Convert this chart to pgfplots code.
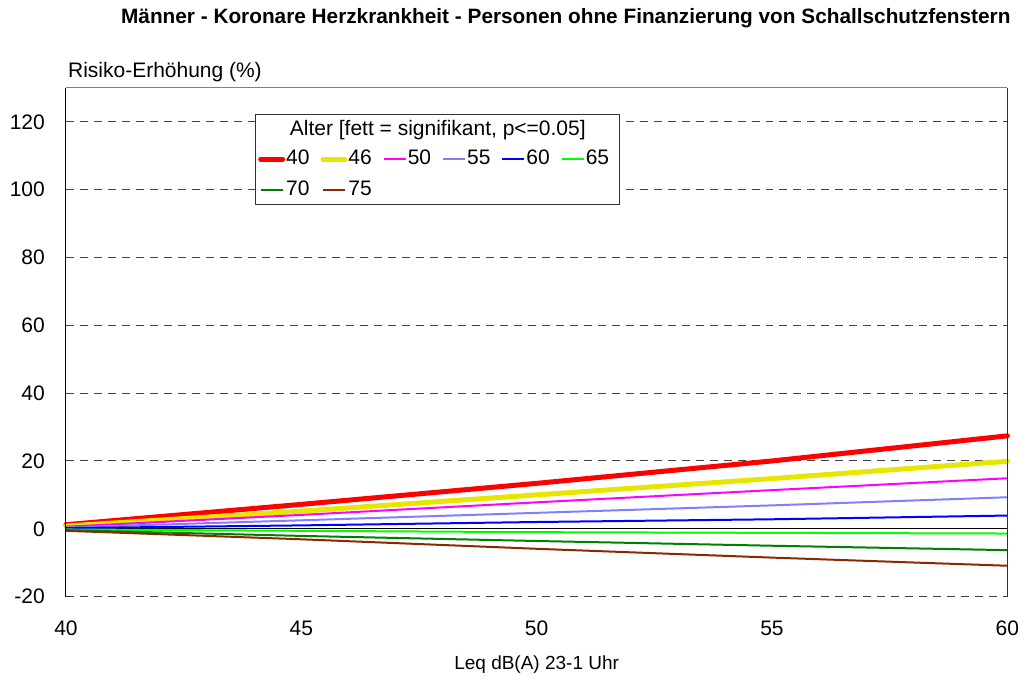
\documentclass[border=0pt]{standalone}
\usepackage{pgfplots}
\pgfplotsset{compat=1.18}
\usepackage{fontspec}
\setmainfont{Liberation Sans}
\definecolor{cyel}{RGB}{230,230,0}
\definecolor{cmag}{RGB}{255,0,255}
\definecolor{clblue}{RGB}{128,128,255}
\definecolor{cdgreen}{RGB}{0,128,0}
\definecolor{cbrown}{RGB}{140,40,0}
\begin{document}
\fontsize{21}{25}\selectfont
\begin{tikzpicture}
\begin{axis}[
  at={(0,0)}, anchor=south west,
  width=942pt, height=509pt, scale only axis,
  xmin=40, xmax=60, ymin=-20, ymax=130,
  xtick={40,45,50,55,60}, ytick={-20,0,20,40,60,80,100,120},
  major tick length=0pt,
  ymajorgrids,
  grid style={black!75, dash pattern=on 8pt off 6pt, line width=1pt},
  axis line style={draw=none},
  tick label style={font=\fontsize{21}{25}\selectfont},
  /pgf/number format/assume math mode=true,
  xticklabel style={yshift=-17pt},
  yticklabel style={xshift=-14pt},
  clip=false,
  legend columns=6,
  legend cell align=left,
  legend style={at={(0.204,0.880)}, anchor=north west, draw=none, fill=none,
    font=\fontsize{21}{25}\selectfont,
    /tikz/every even column/.append style={column sep=10pt},
    row sep=11pt, inner sep=0pt, nodes={inner sep=1pt}},
  legend image code/.code={\draw[#1] (0pt,0pt) -- (22pt,0pt);},
]
\draw[black!80, line width=1pt, fill=white] (rel axis cs:0.2017,0.770) rectangle (rel axis cs:0.588,0.947);
\node at (rel axis cs:0.395,0.917) {Alter [fett = signifikant, p<=0.05]};
\addplot[black, line width=1pt, forget plot] coordinates {(40,0) (60,0)};
\addplot[red, line width=5pt, line cap=round] coordinates {(40,1.2) (45,7.2) (50,13.4) (55,20.0) (60,27.4)};
\addlegendentry{40}
\addplot[cyel, line width=5pt, line cap=round] coordinates {(40,0.8) (45,5.2) (50,10.0) (55,14.8) (60,19.9)};
\addlegendentry{46}
\addplot[cmag, line width=2pt] coordinates {(40,0.6) (45,4.1) (50,7.8) (55,11.4) (60,14.9)};
\addlegendentry{50}
\addplot[clblue, line width=2pt] coordinates {(40,0.4) (45,2.5) (50,4.7) (55,6.9) (60,9.3)};
\addlegendentry{55}
\addplot[blue, line width=2pt] coordinates {(40,0.2) (45,1.0) (50,2.0) (55,2.8) (60,3.9)};
\addlegendentry{60}
\addplot[green, line width=2pt] coordinates {(40,-0.2) (45,-0.6) (50,-1.0) (55,-1.2) (60,-1.4)};
\addlegendentry{65}
\addplot[cdgreen, line width=2pt] coordinates {(40,-0.4) (45,-2.1) (50,-3.6) (55,-5.0) (60,-6.3)};
\addlegendentry{70}
\addplot[cbrown, line width=2pt] coordinates {(40,-0.6) (45,-3.1) (50,-5.9) (55,-8.5) (60,-10.9)};
\addlegendentry{75}
\draw[black, line width=1pt] (rel axis cs:0,0) -- (rel axis cs:0,1);
\draw[black!50, line width=1pt] (rel axis cs:0,1) -- (rel axis cs:1,1);
\draw[black!80, line width=1pt] (rel axis cs:1,1) -- (rel axis cs:1,0);
\node[anchor=west] at (rel axis cs:0,1) [yshift=16pt, xshift=-5pt] {Risiko-Erhöhung (\%)};
\node[font=\fontsize{19}{23}\selectfont] at (rel axis cs:0.5,0) [yshift=-68pt] {Leq dB(A) 23-1 Uhr};
\node[font=\bfseries\fontsize{20.8}{24}\selectfont] at (rel axis cs:0.531,1) [yshift=70pt] {Männer - Koronare Herzkrankheit - Personen ohne Finanzierung von Schallschutzfenstern};
\end{axis}
\path[use as bounding box] (-66pt,-83pt) rectangle (960pt,597pt);
\end{tikzpicture}
\end{document}
